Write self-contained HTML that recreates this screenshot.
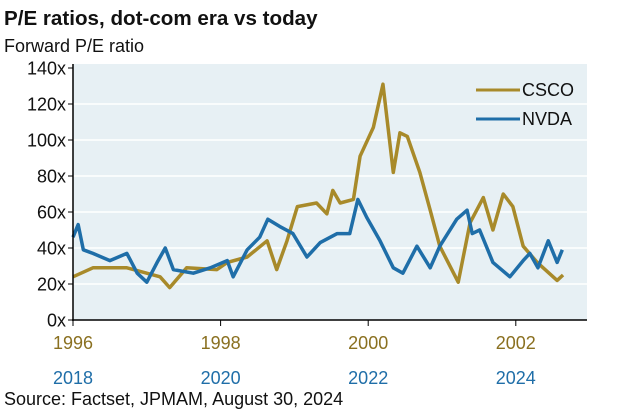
<!DOCTYPE html>
<html><head><meta charset="utf-8"><style>
body{margin:0;width:624px;height:411px;background:#fff;font-family:"Liberation Sans",Arial,sans-serif;overflow:hidden}
</style></head><body>
<svg width="624" height="411">
<text x="4" y="25" font-size="20.6" font-weight="bold" fill="#111">P/E ratios, dot-com era vs today</text>
<text x="4" y="52" font-size="18" fill="#111">Forward P/E ratio</text>
<rect x="73" y="64" width="514" height="256" fill="#e7f0f4"/>
<g id="grid"></g>
<g id="series"></g>
<line x1="73" y1="64" x2="73" y2="321" stroke="#000" stroke-width="1.5"/>
<line x1="72" y1="320" x2="587" y2="320" stroke="#000" stroke-width="1.5"/>
<g>
<line x1="476" y1="90" x2="520" y2="90" stroke="#a88a2a" stroke-width="3"/>
<text x="522" y="96" font-size="18" fill="#111">CSCO</text>
<line x1="476" y1="119" x2="520" y2="119" stroke="#1f6ea8" stroke-width="3"/>
<text x="522" y="125" font-size="18" fill="#111">NVDA</text>
</g>
<text x="4" y="405" font-size="18" fill="#111">Source: Factset, JPMAM, August 30, 2024</text>
</svg>
<script>
const yTicks=[0,20,40,60,80,100,120,140];
const topYears=["1996","1998","2000","2002"];
const bottomYears=["2018","2020","2022","2024"];
const tickYearOffsets=[0,2,4,6];
const cscoT=[0,.27,.73,1.18,1.31,1.54,1.95,2.09,2.36,2.63,2.76,2.9,3.04,3.3,3.44,3.52,3.62,3.8,3.89,4.07,4.2,4.34,4.43,4.53,4.7,4.84,4.97,5.22,5.38,5.56,5.69,5.83,5.96,6.1,6.29,6.56,6.64];
const cscoV=[24,29,29,24,18,29,28,32,35,44,28,44,63,65,59,72,65,67,91,107,131,82,104,102,82,61,41,21,54,68,50,70,63,41,32,22,25];
const nvdaT=[0,.07,.14,.27,.5,.73,.87,1.0,1.14,1.25,1.36,1.63,1.86,2.09,2.17,2.36,2.53,2.64,2.8,2.98,3.17,3.35,3.58,3.75,3.86,3.98,4.16,4.34,4.47,4.66,4.84,4.97,5.2,5.34,5.41,5.51,5.69,5.92,6.1,6.19,6.3,6.44,6.56,6.63];
const nvdaV=[46,53,39,37,33,37,26,21,32,40,28,26,29,33,24,39,46,56,52,48,35,43,48,48,67,57,44,29,26,41,29,41,56,61,48,50,32,24,33,37,29,44,32,39];
const NS="http://www.w3.org/2000/svg";
const x=t=>73+t*73.8;
const y=v=>320-v*1.8;
const svg=document.querySelector("svg");
const grid=document.getElementById("grid");
yTicks.forEach(v=>{
 if(v>0&&v<140){const l=document.createElementNS(NS,"line");
 l.setAttribute("x1",73);l.setAttribute("x2",587);l.setAttribute("y1",y(v));l.setAttribute("y2",y(v));
 l.setAttribute("stroke","#fff");l.setAttribute("stroke-width","1.5");
 
 
 grid.appendChild(l);}
 const tk=document.createElementNS(NS,"line");
 tk.setAttribute("x1",68);tk.setAttribute("x2",73);tk.setAttribute("y1",y(v));tk.setAttribute("y2",y(v));tk.setAttribute("stroke","#000");
 
 
 svg.appendChild(tk);
 const t=document.createElementNS(NS,"text");
 t.setAttribute("x",66);t.setAttribute("y",y(v)+6.5);t.setAttribute("text-anchor","end");t.setAttribute("font-size","18");t.setAttribute("fill","#111");
 t.textContent=v+"x";
 
 
 svg.appendChild(t);
});
tickYearOffsets.forEach((o,i)=>{
 const tk=document.createElementNS(NS,"line");
 tk.setAttribute("x1",x(o));tk.setAttribute("x2",x(o));tk.setAttribute("y1",320);tk.setAttribute("y2",326);tk.setAttribute("stroke","#000");
 
 
 svg.appendChild(tk);
 const a=document.createElementNS(NS,"text");
 a.setAttribute("x",x(o));a.setAttribute("y",349);a.setAttribute("text-anchor","middle");a.setAttribute("font-size","18");a.setAttribute("fill","#8a7020");
 a.textContent=topYears[i];
 
 
 svg.appendChild(a);
 const b=document.createElementNS(NS,"text");
 b.setAttribute("x",x(o));b.setAttribute("y",384);b.setAttribute("text-anchor","middle");b.setAttribute("font-size","18");b.setAttribute("fill","#1f6ea8");
 b.textContent=bottomYears[i];
 
 
 svg.appendChild(b);
});
const ser=document.getElementById("series");
function draw(T,V,c,n){
 const p=document.createElementNS(NS,"polyline");
 p.setAttribute("points",T.map((t,i)=>x(t)+","+y(V[i])).join(" "));
 p.setAttribute("fill","none");p.setAttribute("stroke",c);p.setAttribute("stroke-width","3.5");p.setAttribute("stroke-linejoin","round");
 
 
 ser.appendChild(p);
}
draw(cscoT,cscoV,"#a88a2a","csco-line");
draw(nvdaT,nvdaV,"#1f6ea8","nvda-line");
</script>
</body></html>
